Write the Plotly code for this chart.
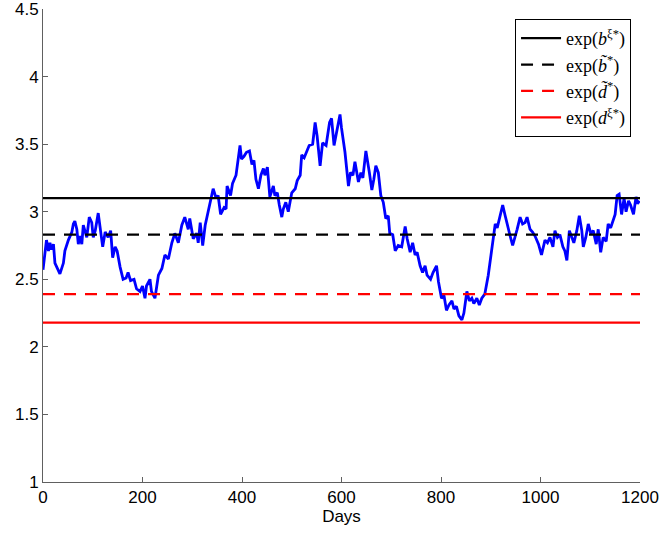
import plotly.graph_objects as go

days = [0, 4, 7, 11, 14, 17, 21, 24, 31, 34, 41, 44, 51, 58, 61, 64, 68, 71, 74, 78, 81, 84, 88, 93, 98, 101, 105, 111, 116, 120, 125, 131, 136, 140, 145, 149, 155, 161, 167, 171, 176, 183, 188, 195, 200, 205,
        208, 215, 218, 225, 232, 239, 245, 252, 259, 265, 272, 279, 285, 292, 295, 302, 309, 312, 316, 321, 326, 332, 336, 342, 348, 352, 357, 364, 368, 370, 377, 381, 388, 393, 396, 399,
        404, 409, 415, 420, 424, 428, 433, 438, 443, 446, 451, 456, 463, 466, 471, 475, 480, 483, 488, 493, 500, 507, 511, 517, 520, 525, 530, 535, 542, 547, 551, 557, 562, 569, 576, 580, 585, 592, 597,
        600, 604, 607, 614, 618, 623, 627, 634, 639, 643, 649, 656, 661, 665, 669, 674, 679, 684, 689, 694, 697, 703, 708, 714, 721, 728, 732, 738, 743, 748, 752, 758, 763, 768, 772, 779, 784, 791, 795,
        801, 806, 811, 816, 822, 826, 831, 836, 842, 846, 852, 857, 862, 866, 872, 877, 882, 888, 895, 900, 905, 909, 913, 919, 924, 929, 933, 939, 944, 949, 953, 959, 964, 969, 973, 979, 984, 989, 996, 1002,
        1009, 1014, 1019, 1025, 1029, 1034, 1039, 1045, 1049, 1053, 1058, 1063, 1067, 1073, 1078, 1083, 1086, 1091, 1096, 1101, 1106, 1112, 1116, 1121, 1126, 1132, 1136, 1141, 1145, 1150, 1154, 1158, 1163, 1168, 1172, 1177, 1181, 1187, 1192, 1195, 1199]
values = [2.57, 2.71, 2.79, 2.71, 2.77, 2.72, 2.76, 2.62, 2.57, 2.54, 2.62, 2.71, 2.79, 2.85, 2.91, 2.93, 2.87, 2.76, 2.82, 2.76, 2.90, 2.86, 2.81, 2.96, 2.92, 2.81, 2.86, 2.99, 2.84, 2.74, 2.85, 2.81, 2.86, 2.66, 2.74, 2.71, 2.59, 2.50, 2.51, 2.55, 2.49, 2.50, 2.43, 2.41, 2.45, 2.36,
          2.45, 2.50, 2.41, 2.36, 2.53, 2.58, 2.68, 2.65, 2.77, 2.84, 2.77, 2.90, 2.96, 2.87, 2.95, 2.80, 2.84, 2.77, 2.92, 2.75, 2.90, 3.00, 3.08, 3.17, 3.10, 3.12, 2.98, 3.03, 3.02, 3.19, 3.12, 3.21, 3.27, 3.42, 3.49, 3.39,
          3.41, 3.44, 3.45, 3.35, 3.38, 3.24, 3.17, 3.27, 3.32, 3.27, 3.33, 3.11, 3.19, 3.12, 3.14, 3.05, 2.96, 3.02, 3.07, 3.00, 3.14, 3.17, 3.23, 3.27, 3.42, 3.40, 3.44, 3.49, 3.50, 3.66, 3.56, 3.34, 3.51, 3.49, 3.66, 3.69, 3.49, 3.61, 3.72,
          3.62, 3.51, 3.44, 3.19, 3.29, 3.27, 3.37, 3.22, 3.29, 3.25, 3.45, 3.29, 3.16, 3.24, 3.34, 3.29, 3.12, 3.07, 2.95, 2.97, 2.84, 2.83, 2.71, 2.75, 2.74, 2.89, 2.80, 2.70, 2.77, 2.68, 2.70, 2.60, 2.55, 2.60, 2.53, 2.50, 2.55, 2.60, 2.48,
          2.36, 2.38, 2.27, 2.31, 2.34, 2.28, 2.30, 2.23, 2.20, 2.25, 2.41, 2.34, 2.36, 2.32, 2.36, 2.31, 2.36, 2.39, 2.53, 2.68, 2.80, 2.91, 2.88, 2.98, 3.05, 2.97, 2.90, 2.82, 2.75, 2.83, 2.87, 2.96, 2.91, 2.92, 2.96, 2.87, 2.85, 2.82, 2.76, 2.68,
          2.79, 2.77, 2.81, 2.74, 2.86, 2.81, 2.83, 2.74, 2.71, 2.64, 2.86, 2.81, 2.77, 2.86, 2.97, 2.86, 2.74, 2.81, 2.91, 2.84, 2.86, 2.76, 2.87, 2.70, 2.81, 2.78, 2.91, 2.88, 2.93, 2.98, 3.12, 3.13, 2.98, 3.10, 3.00, 3.08, 3.05, 2.98, 3.11, 3.06, 3.08]

x_range = [0, 1200]
level_names = ["exp(<i>b</i><sup>ξ*</sup>)", "exp(<i>b̃</i><sup>*</sup>)",
               "exp(<i>d̃</i><sup>*</sup>)", "exp(<i>d</i><sup>ξ*</sup>)"]
level_values = [3.10, 2.83, 2.39, 2.18]
level_colors = ["#000000", "#000000", "#ff0000", "#ff0000"]
level_dash = ["solid", "12px,9px", "12px,9px", "solid"]

x_ticks = [0, 200, 400, 600, 800, 1000, 1200]
y_ticks = [1, 1.5, 2, 2.5, 3, 3.5, 4, 4.5]

fig = go.Figure()
fig.add_trace(go.Scatter(x=days, y=values, mode="lines",
                         line=dict(color="#0000ff", width=2.8),
                         showlegend=False))
for name, v, c, d in zip(level_names, level_values, level_colors, level_dash):
    fig.add_trace(go.Scatter(x=x_range, y=[v, v], mode="lines", name=name,
                             line=dict(color=c, width=2.2, dash=d)))

tick_font = dict(family="Liberation Sans, Arial", size=17, color="#000")
axis_common = dict(showgrid=False, zeroline=False, showline=True,
                   linecolor="#606060", linewidth=1, ticks="inside",
                   ticklen=5, tickcolor="#606060", automargin=False,
                   ticklabeloverflow="allow", tickfont=tick_font)

fig.update_layout(
    width=660, height=533,
    margin=dict(l=43, r=20, t=9, b=51),
    paper_bgcolor="white", plot_bgcolor="white",
    xaxis=dict(range=x_range, tickvals=x_ticks,
               title=dict(text="Days", standoff=0, font=tick_font),
               **axis_common),
    yaxis=dict(range=[1, 4.5], tickvals=y_ticks,
               ticktext=[("%g" % t) for t in y_ticks], **axis_common),
    legend=dict(x=0.985, y=0.979, xanchor="right", yanchor="top",
                bgcolor="white", bordercolor="#000", borderwidth=1,
                font=dict(family="Liberation Serif, DejaVu Serif", size=18, color="#000"),
                tracegroupgap=0, itemwidth=40),
    showlegend=True,
)

fig.write_html("out.html")
